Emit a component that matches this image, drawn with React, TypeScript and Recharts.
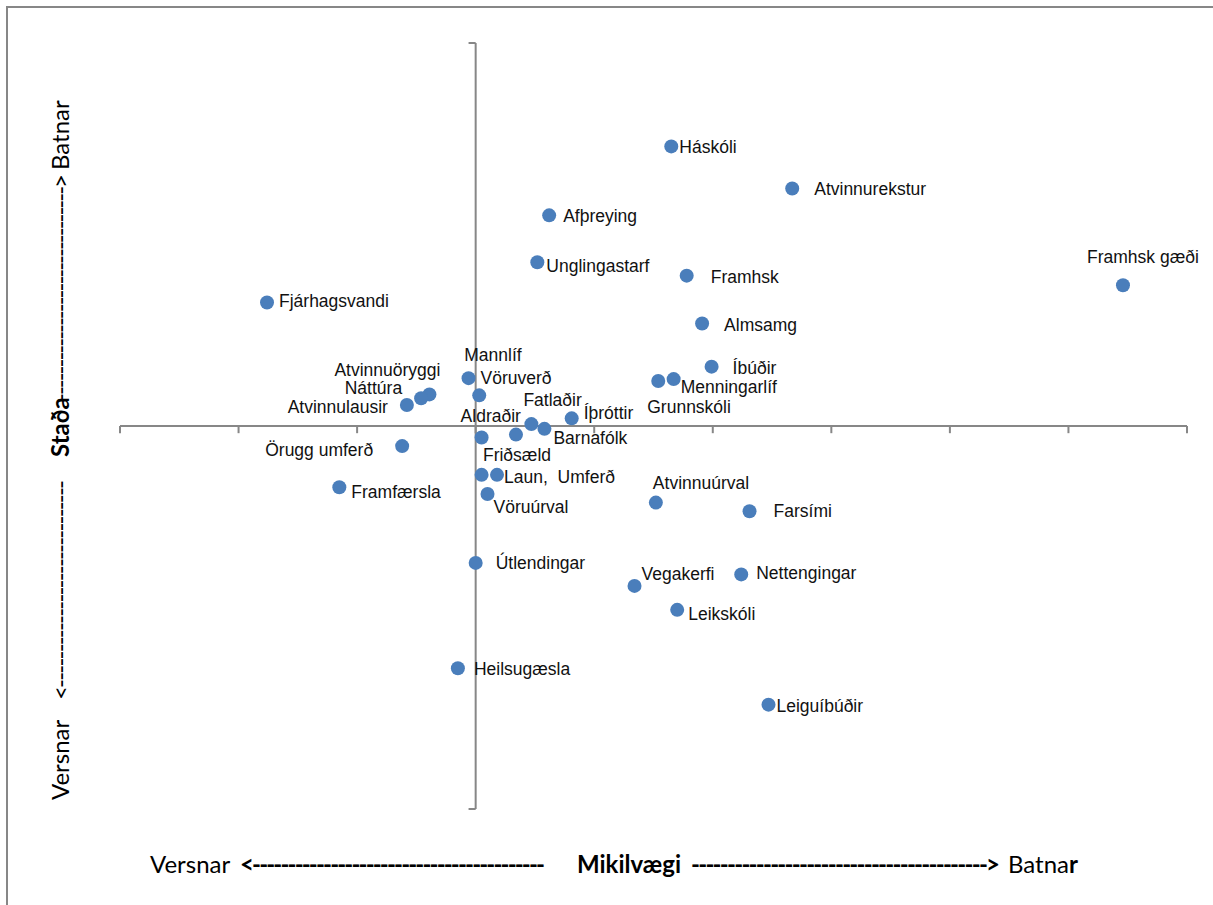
import React from "react";
import {
  ScatterChart,
  Scatter,
  XAxis,
  YAxis,
  ReferenceLine,
  Customized,
} from "recharts";

// topics, how important they are (x) and how things stand (y)
const topics = [
  "Háskóli", "Atvinnurekstur", "Afþreying", "Unglingastarf", "Framhsk",
  "Framhsk gæði", "Fjárhagsvandi", "Almsamg", "Íbúðir", "Menningarlíf",
  "Grunnskóli", "Vöruverð", "Mannlíf", "Atvinnuöryggi", "Náttúra",
  "Atvinnulausir", "Fatlaðir", "Íþróttir", "Barnafólk", "Friðsæld",
  "Aldraðir", "Örugg umferð", "Laun,", "Umferð", "Framfærsla",
  "Vöruúrval", "Atvinnuúrval", "Farsími", "Útlendingar", "Vegakerfi",
  "Nettengingar", "Leikskóli", "Heilsugæsla", "Leiguíbúðir",
];
const importance = [
  1.65, 2.67, 0.62, 0.52, 1.78,
  5.46, -1.76, 1.91, 1.99, 1.67,
  1.54, -0.06, 0.03, -0.39, -0.46,
  -0.58, 0.47, 0.81, 0.58, 0.34,
  0.05, -0.62, 0.18, 0.05, -1.15,
  0.1, 1.52, 2.31, 0.0, 1.34,
  2.24, 1.7, -0.15, 2.47,
];
const status = [
  2.92, 2.48, 2.2, 1.71, 1.57,
  1.47, 1.29, 1.07, 0.62, 0.49,
  0.47, 0.5, 0.32, 0.33, 0.29,
  0.22, 0.02, 0.08, -0.03, -0.09,
  -0.12, -0.21, -0.51, -0.51, -0.64,
  -0.71, -0.8, -0.89, -1.43, -1.67,
  -1.55, -1.92, -2.53, -2.91,
];
const xTicks = [-3, -2, -1, 0, 1, 2, 3, 4, 5, 6];
const yTicks = [-4, 4];

// where each data label sits relative to its marker (px)
const labelPos: Record<string, { dx: number; dy: number; anchor?: "start" | "middle" | "end" }> = {
  "Háskóli": { dx: 8, dy: 1 },
  "Atvinnurekstur": { dx: 22, dy: 0 },
  "Afþreying": { dx: 14, dy: 1 },
  "Unglingastarf": { dx: 9, dy: 4 },
  "Framhsk": { dx: 24, dy: 1 },
  "Framhsk gæði": { dx: 20, dy: -28, anchor: "middle" },
  "Fjárhagsvandi": { dx: 12, dy: -1 },
  "Almsamg": { dx: 22, dy: 1 },
  "Íbúðir": { dx: 21, dy: 1 },
  "Menningarlíf": { dx: 7, dy: 8 },
  "Grunnskóli": { dx: -11, dy: 26 },
  "Vöruverð": { dx: 12, dy: 0 },
  "Mannlíf": { dx: -15, dy: -40 },
  "Atvinnuöryggi": { dx: 11, dy: -24, anchor: "end" },
  "Náttúra": { dx: -19, dy: -10, anchor: "end" },
  "Atvinnulausir": { dx: -19, dy: 2, anchor: "end" },
  "Fatlaðir": { dx: -8, dy: -24 },
  "Íþróttir": { dx: 12, dy: -5 },
  "Barnafólk": { dx: 9, dy: 9 },
  "Friðsæld": { dx: -33, dy: 20 },
  "Aldraðir": { dx: -21, dy: -21 },
  "Örugg umferð": { dx: -29, dy: 4, anchor: "end" },
  "Laun,": { dx: 7, dy: 2 },
  "Umferð": { dx: 76, dy: 2 },
  "Framfærsla": { dx: 12, dy: 5 },
  "Vöruúrval": { dx: 6, dy: 13 },
  "Atvinnuúrval": { dx: -3, dy: -20 },
  "Farsími": { dx: 24, dy: 0 },
  "Útlendingar": { dx: 20, dy: 0 },
  "Vegakerfi": { dx: 7, dy: -12 },
  "Nettengingar": { dx: 15, dy: -1 },
  "Leikskóli": { dx: 11, dy: 4 },
  "Heilsugæsla": { dx: 16, dy: 1 },
  "Leiguíbúðir": { dx: 8, dy: 1 },
};

const data = topics.map((name, i) => ({ name, x: importance[i], y: status[i] }));

const AXIS = "#878787";
const DOT = "#4a7ebb";
const TITLE_FONT = "Lato, 'Open Sans', sans-serif";
const LABEL_FONT = "'Liberation Sans', Arial, sans-serif";
const TICK_X = 0.075; // tick length on the horizontal axis, in y units
const TICK_Y = 0.06; // tick length on the vertical axis, in x units

const Dot = (props: any) => <circle cx={props.cx} cy={props.cy} r={7} fill={DOT} />;

const DotLabel = (props: any) => {
  const p = labelPos[props.payload.name] || { dx: 10, dy: 0 };
  return (
    <text
      x={props.cx + p.dx}
      y={props.cy + p.dy}
      textAnchor={p.anchor || "start"}
      dominantBaseline="central"
      fontFamily={LABEL_FONT}
      fontSize={17.5}
      fill="#111"
    >
      {props.payload.name}
    </text>
  );
};

const dashes = (n: number) => "-".repeat(n);

const AxisTitles = () => (
  <g fontFamily={TITLE_FONT} fontSize={24} fill="#000">
    {/* horizontal title */}
    <text x={150} y={873}>Versnar</text>
    <text x={240} y={873} fontWeight="bold" textLength={305} lengthAdjust="spacing">
      {"<" + dashes(41)}
    </text>
    <text x={577} y={873} fontWeight="bold">Mikilvægi</text>
    <text x={691} y={873} fontWeight="bold" textLength={309} lengthAdjust="spacing">
      {dashes(41) + ">"}
    </text>
    <text x={1078} y={873} textAnchor="end">
      Batna<tspan fontWeight="bold">r</tspan>
    </text>
    {/* vertical title */}
    <g transform="translate(60,0) rotate(-90)">
      <text x={-800} y={9}>Versnar</text>
      <text x={-700} y={9} textLength={220} lengthAdjust="spacing">
        {"<" + dashes(29)}
      </text>
      <text x={-457} y={9} fontWeight="bold">Staða</text>
      <text x={-402} y={9} textLength={228} lengthAdjust="spacing">
        {dashes(31) + ">"}
      </text>
      <text x={-170} y={9}>Batnar</text>
    </g>
  </g>
);

export default function App() {
  return (
    <div style={{ position: "absolute", left: 0, top: 0, width: 1213, height: 905, background: "#fff" }}>
      <div
        style={{
          position: "absolute",
          left: 6,
          top: 6,
          width: 1213,
          height: 905,
          borderLeft: `2px solid ${AXIS}`,
          borderTop: `2px solid ${AXIS}`,
        }}
      />
      <div style={{ position: "absolute", left: 0, top: 0 }}>
        <ScatterChart width={1213} height={905} margin={{ top: 43, right: 26, bottom: 96, left: 120 }}>
          <XAxis type="number" dataKey="x" domain={[-3, 6]} hide />
          <YAxis type="number" dataKey="y" domain={[-4, 4]} hide />
          <ReferenceLine y={0} stroke={AXIS} strokeWidth={2} />
          <ReferenceLine x={0} stroke={AXIS} strokeWidth={2} />
          {xTicks.map((t) => (
            <ReferenceLine
              key={"xt" + t}
              segment={[{ x: t, y: 0 }, { x: t, y: -TICK_X }]}
              stroke={AXIS}
              strokeWidth={2}
            />
          ))}
          {yTicks.map((t) => (
            <ReferenceLine
              key={"yt" + t}
              segment={[{ x: 0, y: t }, { x: -TICK_Y, y: t }]}
              stroke={AXIS}
              strokeWidth={2}
            />
          ))}
          <Scatter data={data} fill={DOT} shape={Dot} isAnimationActive={false} />
          <Scatter data={data} fill={DOT} shape={DotLabel} isAnimationActive={false} />
          <Customized component={AxisTitles} />
        </ScatterChart>
      </div>
    </div>
  );
}
